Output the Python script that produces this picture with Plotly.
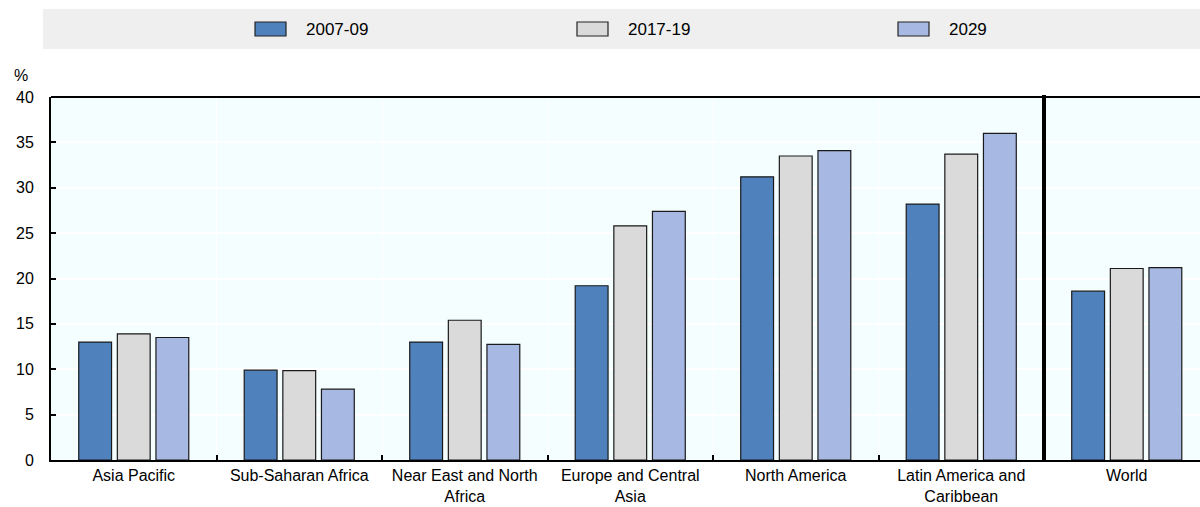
import plotly.graph_objects as go

categories = ["Asia Pacific", "Sub-Saharan Africa", "Near East and North<br>Africa",
              "Europe and Central<br>Asia", "North America", "Latin America and<br>Caribbean", "World"]
series_names = ["2007-09", "2017-19", "2029"]
v_2007_09 = [13.0, 9.9, 13.0, 19.2, 31.2, 28.2, 18.6]
v_2017_19 = [13.9, 9.85, 15.4, 25.8, 33.5, 33.7, 21.1]
v_2029 = [13.5, 7.8, 12.75, 27.4, 34.1, 36.0, 21.2]
colors = ["#4F81BD", "#DADADA", "#A7B8E2"]
y_ticks = [0, 5, 10, 15, 20, 25, 30, 35, 40]

W, H = 1200, 507
L, R, T, B = 51, 0, 97, 47
PW, PH = W - L - R, H - T - B

def px(x):
    return (x - L) / PW

def py(y):
    return (H - B - y) / PH

FONT = "Liberation Sans, Arial, sans-serif"

fig = go.Figure()
for name, vals, col in zip(series_names, [v_2007_09, v_2017_19, v_2029], colors):
    fig.add_trace(go.Bar(
        x=categories, y=vals, name=name,
        marker=dict(color=col, line=dict(color="#1a1a1a", width=1.2)),
        showlegend=False,
    ))

shapes = []
# legend band
shapes.append(dict(type="rect", xref="paper", yref="paper", x0=px(43), x1=px(1200),
                   y0=py(49), y1=py(9), fillcolor="#EFEFEF", line=dict(width=0), layer="below"))
annotations = []
box_x = [255, 577, 898]
for bx, name, col in zip(box_x, series_names, colors):
    shapes.append(dict(type="rect", xref="paper", yref="paper", x0=px(bx), x1=px(bx + 31),
                       y0=py(36), y1=py(22), fillcolor=col, line=dict(color="#222222", width=1.2)))
    annotations.append(dict(text=name, xref="paper", yref="paper", x=px(bx + 49), y=py(29),
                            xanchor="left", yanchor="middle", showarrow=False,
                            font=dict(family=FONT, size=17, color="#000000")))
# top border
shapes.append(dict(type="line", xref="paper", yref="paper", x0=0, x1=1, y0=1, y1=1,
                   line=dict(color="#000000", width=2)))
# separator before World
shapes.append(dict(type="line", xref="x", yref="paper", x0=5.5, x1=5.5, y0=0, y1=py(95),
                   line=dict(color="#000000", width=4)))
annotations.append(dict(text="%", xref="paper", yref="paper", x=px(12), y=py(76),
                        xanchor="left", yanchor="middle", showarrow=False,
                        font=dict(family=FONT, size=16, color="#000000")))

fig.update_layout(
    width=W, height=H,
    margin=dict(l=L, r=R, t=T, b=B, pad=0, autoexpand=False),
    paper_bgcolor="#FFFFFF",
    plot_bgcolor="#F4FEFF",
    barmode="group",
    bargap=0.3,
    bargroupgap=0.15,
    shapes=shapes,
    annotations=annotations,
    font=dict(family=FONT, size=16, color="#000000"),
)
fig.update_xaxes(
    range=[-0.5, -0.5 + PW / 165.5],
    tickson="boundaries",
    tickangle=0,
    automargin=False,
    ticks="inside", ticklen=5, tickwidth=1.5, tickcolor="#000000",
    showgrid=True, gridcolor="#FFFFFF", gridwidth=1,
    showline=True, linecolor="#000000", linewidth=2,
    tickfont=dict(family=FONT, size=16, color="#000000"),
    fixedrange=True,
)
fig.update_yaxes(
    range=[0, 40],
    tickvals=y_ticks,
    automargin=False,
    ticks="inside", ticklen=5, tickwidth=1.5, tickcolor="#000000",
    showgrid=True, gridcolor="#FFFFFF", gridwidth=1.5,
    showline=True, linecolor="#000000", linewidth=2,
    zeroline=False,
    tickfont=dict(family=FONT, size=16, color="#000000"),
    ticklabelstandoff=12,
    fixedrange=True,
)
fig.write_html("out.html")
